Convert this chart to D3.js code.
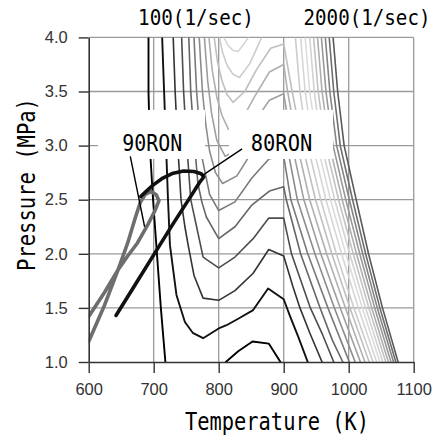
<!DOCTYPE html>
<html>
<head>
<meta charset="utf-8">
<script src="https://cdn.jsdelivr.net/npm/d3@7"></script>
<style>
  html, body { margin: 0; padding: 0; background: #fff; }
  svg { display: block; }
</style>
</head>
<body>
<svg id="chart" width="438" height="436"></svg>
<script>
// ---- data ---------------------------------------------------------------
const xTicks = [600, 700, 800, 900, 1000, 1100];
const yTicks = [1.0, 1.5, 2.0, 2.5, 3.0, 3.5, 4.0];

// ignition-rate contour levels (1/sec) and the grey used for each
const levels = [100, 200, 300, 400, 500, 600, 700, 800, 900, 1000,
                1100, 1200, 1300, 1400, 1500, 1600, 1700, 1800, 1900, 2000];
const levelGrays = ["#000000", "#111111", "#333333", "#4d4d4d", "#666666",
                    "#7a7a7a", "#8c8c8c", "#9e9e9e", "#b0b0b0", "#bfbfbf",
                    "#cccccc", "#d6d6d6", "#dcdcdc", "#d2d2d2", "#c2c2c2",
                    "#aeaeae", "#999999", "#848484", "#6e6e6e", "#595959"];

// contour pieces, [temperature K, pressure MPa]
const c100 = [
  [[692,4.0],[692,3.5],[694,3.0],[699,2.5],[705,2.0],[711,1.5],[718,1.0]],
  [[811,1.0],[830,1.1],[852,1.19],[877,1.17],[895,1.0]]
];
const c200 = [
  [[713,4.0],[716,3.5],[719,3.0],[722,2.5],[725,2.08],[735,1.62],[748,1.37],[760,1.27],[776,1.22],
   [800,1.31],[812,1.34],[830,1.4],[853,1.48],[876,1.68],[900,1.58],[910,1.42],[922,1.24],[937,1.0]]
];
const c300 = [
  [[730,4.0],[733,3.5],[737,3.0],[742,2.5],[748,2.25],[753,2.08],[762,1.8],[776,1.59],[800,1.57],
   [825,1.66],[853,1.82],[877,2.04],[900,1.98],[914,1.7],[925,1.5],[940,1.27],[959,1.0]]
];
const c400 = [
  [[743,4.0],[746,3.5],[751,3.0],[757,2.5],[766,2.25],[776,1.97],[800,1.87],[825,1.97],[853,2.14],
   [877,2.33],[900,2.33],[912,2.0],[941,1.5],[960,1.25],[977,1.0]]
];
const c500 = [
  [[754,4.0],[757,3.5],[763,3.0],[768,2.65],[774,2.48],[781,2.34],[800,2.14],[825,2.25],[851,2.45],
   [878,2.58],[900,2.62],[904,2.5],[926,2.0],[956,1.5],[975,1.2],[991,1.0]]
];
const c600 = [
  [[762,4.0],[766,3.5],[770,3.2],[774,2.9],[786,2.55],[800,2.40],[825,2.48],[851,2.7],[878,2.88],
   [900,2.9],[911,2.5],[937,2.0],[968,1.5],[1001,1.0]]
];
const c700 = [
  [[770,4.0],[775,3.5],[780,3.2],[786,2.95],[795,2.75],[806,2.65],[828,2.72],[852,2.95],[878,3.15],
   [900,3.18],[905,3.0],[921,2.5],[948,2.0],[978,1.5],[1010,1.0]]
];
const c800 = [
  [[778,4.0],[783,3.6],[789,3.3],[797,3.05],[810,2.9],[832,2.98],[853,3.2],[878,3.42],[900,3.48],
   [913,3.0],[931,2.5],[957,2.0],[987,1.5],[1018,1.0]]
];
const c900 = [
  [[785,4.0],[790,3.7],[797,3.45],[805,3.28],[815,3.15],[835,3.23],[855,3.45],[878,3.68],[900,3.75],
   [906,3.5],[921,3.0],[940,2.5],[966,2.0],[995,1.5],[1025,1.0]]
];
const c1000 = [
  [[793,4.0],[798,3.78],[805,3.6],[813,3.47],[822,3.4],[840,3.5],[858,3.7],[880,3.9],[900,3.94],
   [913,3.5],[929,3.0],[949,2.5],[974,2.0],[1002,1.5],[1031.5,1.0]]
];
const c1100 = [
  [[801,4.0],[806,3.86],[813,3.74],[822,3.66],[832,3.63],[848,3.76],[860,3.92],[866,4.0]],
  [[918,4.0],[925,3.5],[937,3.0],[957,2.5],[981,2.0],[1008,1.5],[1037.5,1.0]]
];
const c1200 = [
  [[808,4.0],[814,3.93],[822,3.88],[830,3.87],[840,3.95],[846,4.0]],
  [[926,4.0],[933,3.5],[945,3.0],[965,2.5],[989,2.0],[1015,1.5],[1043,1.0]]
];
const c1300 = [[[933,4.0],[940,3.5],[952,3.0],[972,2.5],[995.5,2.0],[1021,1.5],[1048,1.0]]];
const c1400 = [[[940,4.0],[947,3.5],[958.5,3.0],[978.5,2.5],[1001.5,2.0],[1026,1.5],[1052.5,1.0]]];
const c1500 = [[[946,4.0],[953,3.5],[964.5,3.0],[984.5,2.5],[1007,2.0],[1031,1.5],[1057,1.0]]];
const c1600 = [[[952,4.0],[959,3.5],[970.5,3.0],[990,2.5],[1012,2.0],[1035.5,1.5],[1061,1.0]]];
const c1700 = [[[958,4.0],[965,3.5],[976,3.0],[995.5,2.5],[1017,2.0],[1040,1.5],[1065,1.0]]];
const c1800 = [[[964,4.0],[971,3.5],[981.5,3.0],[1001,2.5],[1021.5,2.0],[1044,1.5],[1069,1.0]]];
const c1900 = [[[970,4.0],[977,3.5],[987,3.0],[1006,2.5],[1026,2.0],[1048,1.5],[1072.5,1.0]]];
const c2000 = [[[976,4.0],[983,3.5],[993,3.0],[1011.5,2.5],[1030.5,2.0],[1052,1.5],[1076,1.0]]];

// in-cylinder T-P histories
const ron90 = [[600,1.42],[624,1.64],[645,1.85],[660,2.1],[671,2.32],[679,2.47],[687,2.55],[696,2.575],
               [704,2.545],[708,2.49],[702,2.4],[691,2.27],[675,2.1],[660,1.98],[645,1.85],[624,1.52],[600,1.19]];
const ron80 = [[642,1.43],[671,1.71],[700,1.99],[729,2.27],[758,2.54],[770,2.655],[777,2.71],[773,2.74],
               [762,2.76],[746,2.765],[730,2.745],[714,2.7],[699,2.635],[688,2.575],[680,2.53]];

// leader lines from the labels to the curves
const pointer90 = [[664,2.9],[686,2.25]];
const pointer80 = [[774,2.72],[836,2.97]];

// ---- drawing -------------------------------------------------------------
const svg = d3.select("#chart");
const x = d3.scaleLinear().domain([600, 1100]).range([88.7, 413.7]);
const y = d3.scaleLinear().domain([1, 4]).range([362, 37.4]);
const line = d3.line().x(d => x(d[0])).y(d => y(d[1]));

const monoFont = "'DejaVu Sans Mono', 'Liberation Mono', monospace";
const tickFont = "'Liberation Sans', Arial, sans-serif";

svg.append("rect").attr("width", 438).attr("height", 436).attr("fill", "#fff");

svg.append("defs").append("clipPath").attr("id", "plotClip")
  .append("rect")
  .attr("x", x(600)).attr("y", y(4))
  .attr("width", x(1100) - x(600)).attr("height", y(1) - y(4));

// grid
const grid = svg.append("g").attr("stroke", "#9a9a9a").attr("stroke-width", 1.3);
grid.selectAll("line.v").data(xTicks.slice(1)).join("line")
  .attr("x1", d => x(d)).attr("x2", d => x(d))
  .attr("y1", y(4)).attr("y2", y(1));
grid.selectAll("line.h").data(yTicks.slice(1)).join("line")
  .attr("x1", x(600)).attr("x2", x(1100))
  .attr("y1", d => y(d)).attr("y2", d => y(d));

// contour lines
const contourSets = [c100, c200, c300, c400, c500, c600, c700, c800, c900, c1000,
                     c1100, c1200, c1300, c1400, c1500, c1600, c1700, c1800, c1900, c2000];
const cg = svg.append("g").attr("clip-path", "url(#plotClip)")
  .attr("fill", "none").attr("stroke-linejoin", "round").attr("stroke-linecap", "round");
for (let i = contourSets.length - 1; i >= 0; i--) {
  contourSets[i].forEach(piece => {
    cg.append("path")
      .attr("d", line(piece))
      .attr("stroke", levelGrays[i])
      .attr("stroke-width", i < 2 ? 1.9 : 1.6)
      .attr("data-level", levels[i]);
  });
}

// T-P histories
const tg = svg.append("g").attr("clip-path", "url(#plotClip)")
  .attr("fill", "none").attr("stroke-linejoin", "round").attr("stroke-linecap", "round");
tg.append("path").attr("d", line(ron90)).attr("stroke", "#6e6e6e").attr("stroke-width", 3.6);
tg.append("path").attr("d", line(ron80)).attr("stroke", "#111").attr("stroke-width", 3.6);

// axes
const axLeft = svg.append("g").attr("transform", `translate(${x(600)},0)`)
  .call(d3.axisLeft(y).tickValues(yTicks).tickFormat(d3.format(".1f"))
        .tickSize(10).tickPadding(11).tickSizeOuter(0));
const axBottom = svg.append("g").attr("transform", `translate(0,${y(1)})`)
  .call(d3.axisBottom(x).tickValues(xTicks).tickFormat(d3.format("d"))
        .tickSize(11).tickPadding(10).tickSizeOuter(0));
[axLeft, axBottom].forEach(ax => {
  ax.select(".domain").attr("stroke", "#333").attr("stroke-width", 1.6);
  ax.selectAll(".tick line").attr("stroke", "#333").attr("stroke-width", 1.4);
  ax.selectAll(".tick text").attr("fill", "#333")
    .style("font-family", tickFont).style("font-size", "16.5px");
});

// label boxes
const boxTop = 3.33, boxBottom = 2.876;
[[614.3, 778.9], [815.8, 975.8]].forEach(([t0, t1]) => {
  svg.append("rect")
    .attr("x", x(t0)).attr("y", y(boxTop))
    .attr("width", x(t1) - x(t0)).attr("height", y(boxBottom) - y(boxTop))
    .attr("fill", "#fff");
});

// leader lines
[pointer90, pointer80].forEach(p => {
  svg.append("path").attr("d", line(p)).attr("fill", "none")
    .attr("stroke", "#000").attr("stroke-width", 1.4);
});

// narrow, tall monospaced text: squeezed horizontally to the wanted width
function monoText(txt, cx, cy, size, len, angle) {
  const g = svg.append("g");
  const t = g.append("text")
    .attr("x", 0).attr("y", 0)
    .attr("text-anchor", "middle")
    .style("font-family", monoFont).style("font-size", size + "px")
    .attr("fill", "#000")
    .text(txt);
  const natural = t.node().getComputedTextLength();
  const sx = len / natural;
  g.attr("transform", `translate(${cx},${cy}) rotate(${angle || 0}) scale(${sx},1)`);
  return g;
}

// series labels
monoText("90RON", x(697.7), y(2.95), 23, 60);
monoText("80RON", x(896.6), y(2.95), 23, 61.6);

// level captions above the plot
monoText("100(1/sec)", 196, 25, 22, 116);
monoText("2000(1/sec)", 367, 25, 22, 127);

// axis titles
monoText("Temperature (K)", 277, 430, 25, 184);
monoText("Pressure (MPa)", 35, 184.5, 25, 173, -90);
</script>
</body>
</html>
